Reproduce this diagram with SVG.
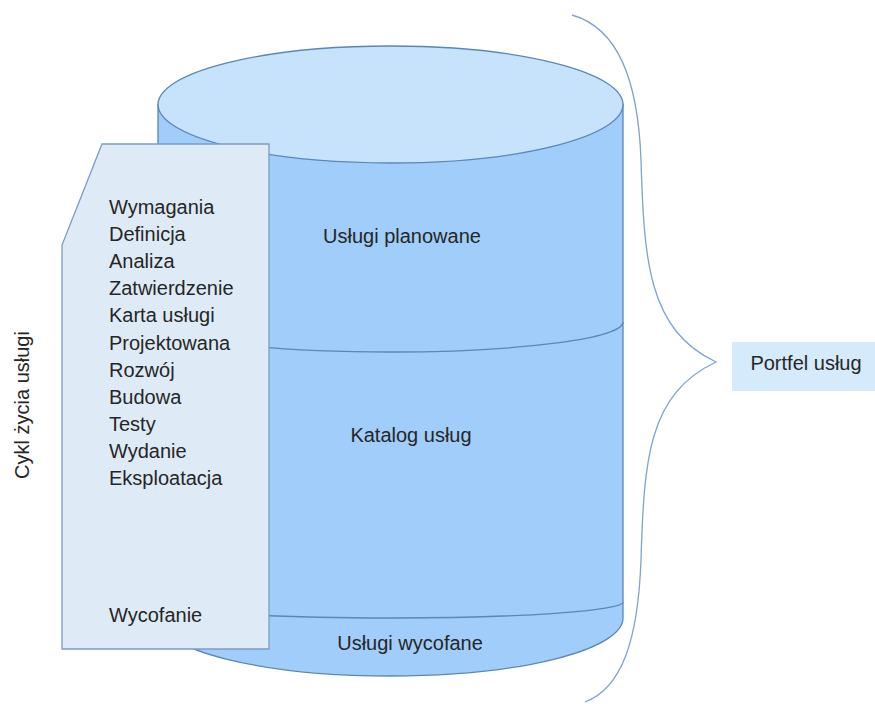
<svg xmlns="http://www.w3.org/2000/svg" width="875" height="704" viewBox="0 0 875 704">
<style>
.t{font-family:"Liberation Sans",Arial,sans-serif;font-size:20px;fill:#262626}
.c{text-anchor:middle}
.edge{stroke:#5B86B5;stroke-width:1.3;fill:none}
</style>
<rect width="875" height="704" fill="#ffffff"/>
<g id="cylinder">
<path d="M158,104.5 V618 A232.5,58 0 0 0 623,618 V104.5 Z" fill="#A0CDF9" stroke="#5B86B5" stroke-width="1.3"/>
<path class="edge" d="M158,322 A232.5,30 0 0 0 623,322"/>
<path class="edge" d="M158,602 A232.5,16 0 0 0 623,602"/>
<ellipse cx="390.5" cy="104.5" rx="232.5" ry="58.5" fill="#C7E2FB" stroke="#5B86B5" stroke-width="1.3"/>
<text class="t c" x="402" y="243">Usługi planowane</text>
<text class="t c" x="411" y="442">Katalog usług</text>
<text class="t c" x="410" y="650">Usługi wycofane</text>
</g>
<g id="lifecycle">
<polygon points="102,144 269,144 269,649 62,649 62,245" fill="#DEEBF7" stroke="#7C9CC4" stroke-width="1.3"/>
<text class="t" x="109" y="214">Wymagania</text>
<text class="t" x="109" y="241">Definicja</text>
<text class="t" x="109" y="268">Analiza</text>
<text class="t" x="109" y="295">Zatwierdzenie</text>
<text class="t" x="109" y="322">Karta usługi</text>
<text class="t" x="109" y="350">Projektowana</text>
<text class="t" x="109" y="377">Rozwój</text>
<text class="t" x="109" y="404">Budowa</text>
<text class="t" x="109" y="431">Testy</text>
<text class="t" x="109" y="458">Wydanie</text>
<text class="t" x="109" y="485">Eksploatacja</text>
<text class="t" x="109" y="622">Wycofanie</text>
</g>
<g id="lifecycle-label">
<text class="t c" transform="translate(29,405) rotate(-90)">Cykl życia usługi</text>
</g>
<g id="connectors">
<path d="M572,15 C618,28 638,80 641,160 C644,260 648,330 716,362 C648,394 644,460 641,560 C638,640 622,688 585,702" fill="none" stroke="#7FA3CF" stroke-width="1.3"/>
</g>
<g id="portfolio">
<rect x="732" y="342" width="143" height="49" fill="#D5EAFB"/>
<text class="t c" x="806" y="370">Portfel usług</text>
</g>
</svg>
